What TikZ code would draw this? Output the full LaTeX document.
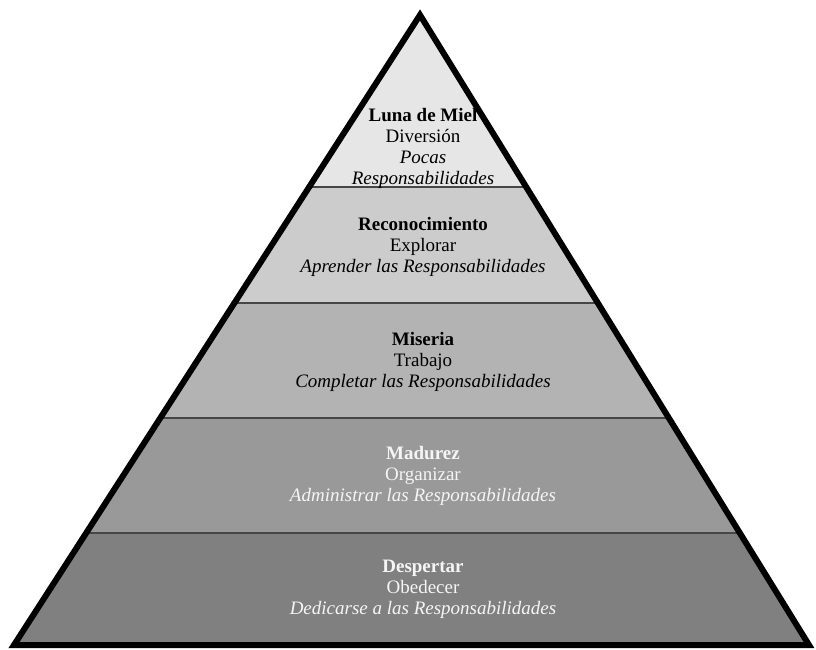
\documentclass[tikz,border=0pt]{standalone}
\usepackage{fontspec}
\setmainfont{Liberation Serif}
\definecolor{bandA}{RGB}{230,230,230}
\definecolor{bandB}{RGB}{204,204,204}
\definecolor{bandC}{RGB}{179,179,179}
\definecolor{bandD}{RGB}{153,153,153}
\definecolor{bandE}{RGB}{128,128,128}
\definecolor{sepgray}{RGB}{70,70,70}
\definecolor{softwhite}{RGB}{245,245,245}

\begin{document}
\begin{tikzpicture}[x=1pt,y=-1pt,
        etapa/.style={align=center,font=\fontsize{19}{21}\selectfont}]
        \useasboundingbox (0,0) rectangle (816,649);
        \def\tx{423}
        \coordinate (apex) at (420,15);
        \coordinate (baseL) at (14,645);
        \coordinate (baseR) at (809,645);
        % bands
        \begin{scope}
            \clip (apex) -- (baseL) -- (baseR) -- cycle;
            \fill[bandA] (0,0) rectangle (816,187);
            \fill[bandB] (0,187) rectangle (816,303);
            \fill[bandC] (0,303) rectangle (816,418);
            \fill[bandD] (0,418) rectangle (816,533);
            \fill[bandE] (0,533) rectangle (816,649);
            \foreach \y in {187,303,418,533}
                \draw[sepgray,line width=1.5pt] (0,\y) -- (816,\y);
        \end{scope}
        \draw[line width=6pt,line join=miter] (apex) -- (baseL) -- (baseR) -- cycle;
        % labels
        \node[etapa] (luna) at (\tx,148) {\textbf{Luna de Miel}\\Diversión\\\textit{Pocas}\\\textit{Responsabilidades}};
        \node[etapa] (recon) at (\tx,246.5) {\textbf{Reconocimiento}\\Explorar\\\textit{Aprender las Responsabilidades}};
        \node[etapa] (miseria) at (\tx,361.5) {\textbf{Miseria}\\Trabajo\\\textit{Completar las Responsabilidades}};
        \node[etapa,text=softwhite] (madurez) at (\tx,475.5) {\textbf{Madurez}\\Organizar\\\textit{Administrar las Responsabilidades}};
        \node[etapa,text=softwhite] (despertar) at (\tx,589.5) {\textbf{Despertar}\\Obedecer\\\textit{Dedicarse a las Responsabilidades}};
\end{tikzpicture}
\end{document}
